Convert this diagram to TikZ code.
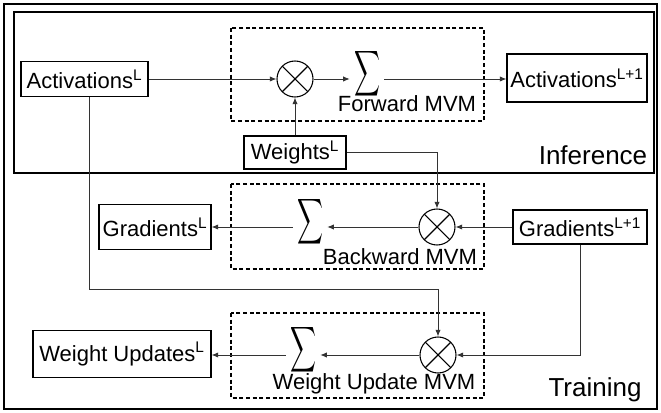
\documentclass[tikz,border=0pt]{standalone}
\usepackage{exscale}
\usepackage{fontspec}
\setmainfont{Liberation Sans}
\usepackage{tikz}
\usetikzlibrary{arrows.meta,positioning}

\begin{document}
\begin{tikzpicture}[x=0.75pt,y=-0.75pt]
		\tikzstyle{Box}		= [rectangle, draw, line width=0.8pt, inner sep=0pt, font=\fontsize{16.5}{20}\selectfont]
		\tikzstyle{Mult}	= [circle, draw, line width=0.8pt, minimum size=27pt, inner sep=0pt,
						path picture={\draw[line width=0.8pt] (path picture bounding box.north west) -- (path picture bounding box.south east)
							(path picture bounding box.north east) -- (path picture bounding box.south west);}]
		\tikzstyle{Sum}		= [inner sep=3pt, font=\fontsize{20}{24}\selectfont]
		\tikzstyle{Group}	= [draw, dashed, dash pattern=on 3pt off 2pt, line width=0.8pt]
		\tikzstyle{Label}	= [inner sep=0pt, font=\fontsize{16.5}{20}\selectfont]
		\tikzstyle{Phase}	= [inner sep=0pt, font=\fontsize{19.5}{23}\selectfont]
		\tikzstyle{Conn}	= [black!80, line width=0.6pt, -{Latex[length=5pt,width=4pt]}]

		\useasboundingbox (0,0) rectangle (661,413);
		\draw [line width=1.2pt] (4,4) rectangle (657,409);
		\draw [line width=1pt] (14,12) rectangle (654,173);

		% dashed MVM blocks
		\draw [Group] (231,28) rectangle (484,121);
		\draw [Group] (231,184) rectangle (484,269);
		\draw [Group] (231,313) rectangle (484,398);

		\node (act) at (84.5,79) [Box, minimum width=95.25pt, minimum height=26.25pt] {Activations\textsuperscript{L}};
		\node (actn) at (577,78) [Box, minimum width=105pt, minimum height=36pt] {Activations\textsuperscript{L+1}};
		\node (wts) at (295,152.5) [Box, minimum width=76.5pt, minimum height=24.75pt] {Weights\textsuperscript{L}};
		\node (grad) at (155,227) [Box, minimum width=84pt, minimum height=33.75pt] {Gradients\textsuperscript{L}};
		\node (gradn) at (580,227) [Box, minimum width=100.5pt, minimum height=25.5pt] {Gradients\textsuperscript{L+1}};
		\node (wupd) at (122,354) [Box, minimum width=133.5pt, minimum height=35.25pt] {Weight Updates\textsuperscript{L}};

		\node (mulF) at (295,79) [Mult] {};
		\node (mulB) at (437,227) [Mult] {};
		\node (mulW) at (438,355) [Mult] {};

		\node (sumF) at (367,73.5) [Sum] {\scalebox{0.65}[1.15]{$\displaystyle\sum$}};
		\node (sumB) at (310,222) [Sum] {\scalebox{0.65}[1.15]{$\displaystyle\sum$}};
		\node (sumW) at (303,350) [Sum] {\scalebox{0.65}[1.15]{$\displaystyle\sum$}};

		\node (fwd) at (407,104) [Label] {Forward MVM};
		\node (bwd) at (400,257) [Label] {Backward MVM};
		\node (wum) at (374,384) [Label] {Weight Update MVM};
		\node (inf) at (593,155) [Phase] {Inference};
		\node (trn) at (595,390) [Phase] {Training};

		\coordinate (actturn) at (89,289);

		% inference
		\draw (act.east) to (mulF.west) [Conn];
		\draw (mulF.east) to (mulF.east -| sumF.west) [Conn];
		\draw (sumF.east |- mulF.east) to (actn.west |- mulF.east) [Conn];
		\draw (wts.north) to (mulF.south) [Conn];
		% backward
		\draw (wts.east) -| (mulB.north) [Conn];
		\draw (gradn.west) to (mulB.east) [Conn];
		\draw (mulB.west) to (mulB.west -| sumB.east) [Conn];
		\draw (sumB.west |- mulB.west) to (grad.east |- mulB.west) [Conn];
		% weight update
		\draw (actturn |- act.south) -- (actturn) -| (mulW.north) [Conn];
		\draw (gradn.south) |- (mulW.east) [Conn];
		\draw (mulW.west) to (mulW.west -| sumW.east) [Conn];
		\draw (sumW.west |- mulW.west) to (wupd.east |- mulW.west) [Conn];
	\end{tikzpicture}
\end{document}
